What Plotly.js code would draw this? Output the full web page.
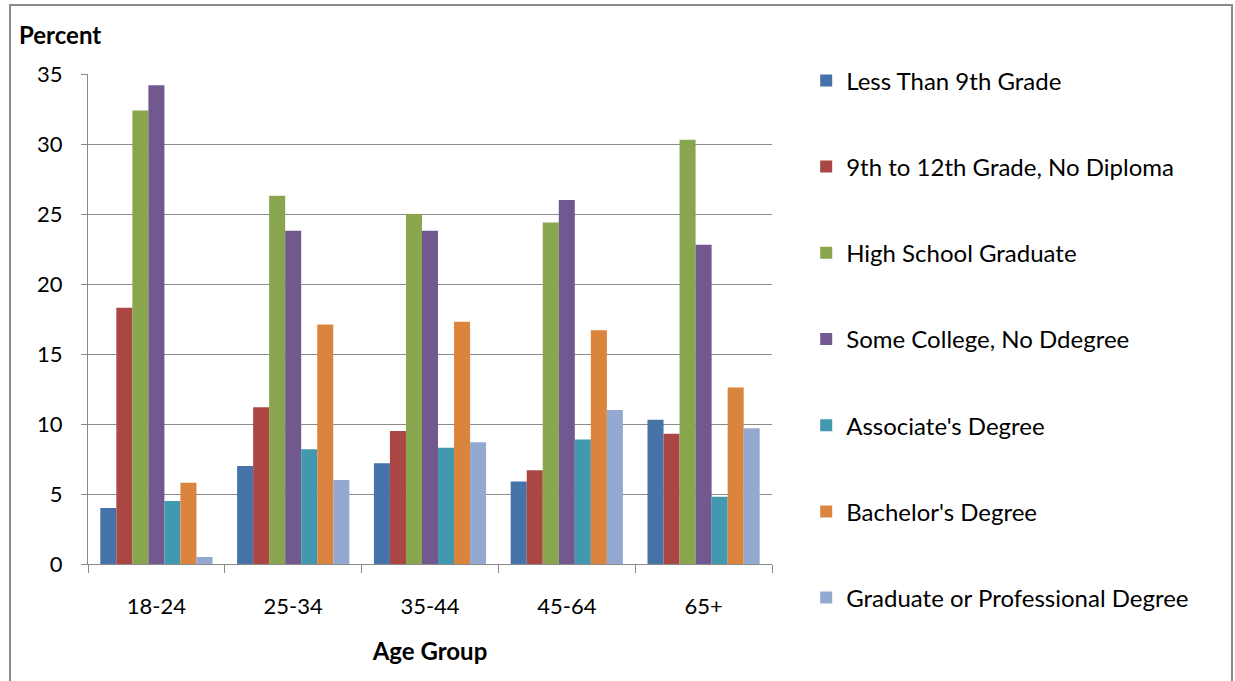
<!DOCTYPE html>
<html>
<head>
<meta charset="utf-8">
<script src="https://cdn.plot.ly/plotly-3.0.1.min.js"></script>
<style>html,body{margin:0;padding:0;background:#fff;}#chart{width:1235px;height:681px;}</style>
</head>
<body>
<div id="chart"></div>
<script>
const categories = ["18-24", "25-34", "35-44", "45-64", "65+"];
const seriesNames = ["Less Than 9th Grade", "9th to 12th Grade, No Diploma", "High School Graduate", "Some College, No Ddegree", "Associate's Degree", "Bachelor's Degree", "Graduate or Professional Degree"];
const lessThan9th = [4.0, 7.0, 7.2, 5.9, 10.3];
const grade9to12 = [18.3, 11.2, 9.5, 6.7, 9.3];
const highSchool = [32.4, 26.3, 25.0, 24.4, 30.3];
const someCollege = [34.2, 23.8, 23.8, 26.0, 22.8];
const associate = [4.5, 8.2, 8.3, 8.9, 4.8];
const bachelor = [5.8, 17.1, 17.3, 16.7, 12.6];
const graduate = [0.5, 6.0, 8.7, 11.0, 9.7];
const colors = ["#4572A7", "#AA4643", "#89A54E", "#71588F", "#4198AF", "#DB843D", "#93A9CF"];
const yTicks = [0, 5, 10, 15, 20, 25, 30, 35];

const allValues = [lessThan9th, grade9to12, highSchool, someCollege, associate, bachelor, graduate];
const font = "Lato, 'Open Sans', sans-serif";

const traces = allValues.map((vals, i) => ({
  type: "bar",
  name: seriesNames[i],
  x: categories,
  y: vals,
  legendgroup: "g" + i,
  marker: {color: colors[i], line: {width: 0}},
  hoverinfo: "x+y+name"
}));

const layout = {
  width: 1235, height: 681,
  margin: {l: 88, r: 463, t: 74, b: 117},
  paper_bgcolor: "#fff", plot_bgcolor: "#fff",
  barmode: "group", bargap: 0.18, bargroupgap: 0,
  font: {family: font, color: "#000", size: 22},
  xaxis: {
    type: "category",
    tickson: "boundaries",
    ticks: "outside", ticklen: 8, tickcolor: "#888", tickwidth: 1,
    showline: true, linecolor: "#888", linewidth: 1,
    showgrid: false, zeroline: false,
    ticklabelstandoff: 23,
    tickfont: {size: 22, family: font},
    title: {text: "<b>Age Group</b>", font: {size: 24, family: font}, standoff: 24}
  },
  yaxis: {
    range: [0, 35], tickvals: yTicks,
    ticks: "outside", ticklen: 6, tickcolor: "#888",
    showline: true, linecolor: "#888", linewidth: 1,
    showgrid: true, gridcolor: "#8c8c8c", gridwidth: 1,
    zeroline: false,
    ticklabelstandoff: 14,
    tickfont: {size: 22, family: font}
  },
  showlegend: true,
  legend: {
    x: 1.05, xanchor: "left", y: 1.032, yanchor: "top",
    traceorder: "grouped", tracegroupgap: 52,
    maxheight: 670,
    font: {size: 24, family: font},
    itemwidth: 30, bgcolor: "rgba(0,0,0,0)"
  },
  annotations: [
    {xref: "paper", yref: "paper", x: -0.104, y: 1.0796, xanchor: "left", yanchor: "middle",
     text: "<b>Percent</b>", showarrow: false, font: {size: 24, family: font}}
  ],
  shapes: [
    {type: "rect", xref: "paper", yref: "paper", x0: -0.114, x1: 1.6725, y0: -0.3, y1: 1.1408,
     line: {color: "#8a8a8a", width: 2}, fillcolor: "rgba(0,0,0,0)", layer: "below"}
  ]
};

Plotly.newPlot("chart", traces, layout, {displayModeBar: false, staticPlot: true});
</script>
</body>
</html>
